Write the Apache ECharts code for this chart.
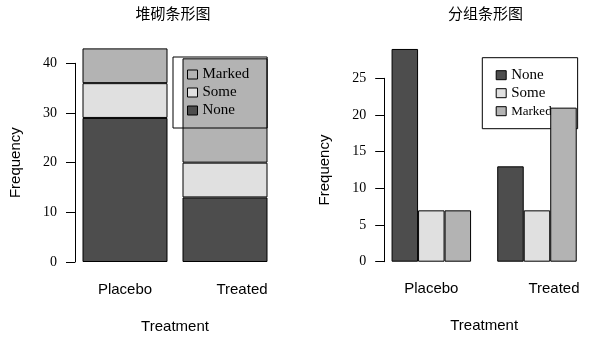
<!DOCTYPE html>
<html>
<head>
<meta charset="utf-8">
<script src="https://cdn.jsdelivr.net/npm/echarts@6/dist/echarts.min.js"></script>
<style>html,body{margin:0;padding:0;background:#fff}#c{width:612px;height:347px}</style>
</head>
<body>
<div id="c"></div>
<script>
var categories = ['Placebo', 'Treated'];
var noneVals = [29, 13];
var someVals = [7, 7];
var markedVals = [7, 21];
var leftTicks = [0, 10, 20, 30, 40];
var rightTicks = [0, 5, 10, 15, 20, 25];
var titles = ['堆砌条形图', '分组条形图'];

var COL = {None: '#4d4d4d', Some: '#e0e0e0', Marked: '#b3b3b3'};
var serif = '"Liberation Serif", "Times New Roman", serif';
var sans = '"Liberation Sans", Arial, sans-serif';
var cjk = '"Noto Sans CJK SC", sans-serif';

var chart = echarts.init(document.getElementById('c'), null, {renderer: 'canvas'});

function xAxisFor(gi) {
  return {
    type: 'category', gridIndex: gi,
    data: categories.map(function (c, i) {
      return i === 1 ? {value: c, textStyle: {padding: [0, 0, 0, 34]}} : c;
    }),
    axisLine: {show: false}, axisTick: {show: false},
    axisLabel: {fontFamily: sans, fontSize: 15, color: '#000', margin: 20},
    name: 'Treatment', nameLocation: 'middle', nameGap: 57,
    nameTextStyle: {fontFamily: sans, fontSize: 15, color: '#000'}
  };
}
function yAxisFor(gi, ticks, offset) {
  return {
    type: 'value', gridIndex: gi, min: ticks[0], max: ticks[ticks.length - 1],
    interval: ticks[1] - ticks[0], offset: offset,
    axisLine: {show: true, lineStyle: {color: '#000', width: 1}},
    axisTick: {show: true, length: 9, lineStyle: {color: '#000'}},
    splitLine: {show: false},
    axisLabel: {fontFamily: serif, fontSize: 14, color: '#000', margin: 18},
    name: 'Frequency', nameLocation: 'middle', nameGap: 52, nameRotate: 90,
    nameTextStyle: {fontFamily: sans, fontSize: 15, color: '#000'}
  };
}
function barSeries(name, data, gi, stack, width) {
  var s = {
    type: 'bar', name: name, data: data, xAxisIndex: gi, yAxisIndex: gi,
    barWidth: width, clip: false,
    itemStyle: {color: COL[name], borderColor: '#000', borderWidth: 1},
    emphasis: {disabled: true}, animation: false
  };
  if (stack) s.stack = stack; else s.barGap = '0%';
  return s;
}

var option = {
  animation: false,
  grid: [
    {left: 75, width: 200, top: 63.3, bottom: 347 - 262},
    {left: 378.5, width: 211.3, top: 78.3, bottom: 347 - 261.7}
  ],
  xAxis: [xAxisFor(0), xAxisFor(1)],
  yAxis: [yAxisFor(0, leftTicks, 0), yAxisFor(1, rightTicks, -5.7)],
  legend: [
    {
      orient: 'vertical', left: 173, top: 57,
      data: ['Marked', 'Some', 'None'],
      icon: 'rect', itemWidth: 10, itemHeight: 9, itemGap: 3,
      padding: [10, 18, 10, 14],
      borderColor: '#000', borderWidth: 1, backgroundColor: 'transparent',
      textStyle: {fontFamily: serif, fontSize: 15, color: '#000', lineHeight: 15},
      itemStyle: {borderColor: '#000', borderWidth: 1},
      selectedMode: false, z: 5
    },
    {
      orient: 'vertical', left: 482.3, top: 57.7,
      data: ['None', 'Some', {name: 'Marked', textStyle: {fontSize: 13}}],
      icon: 'rect', itemWidth: 10, itemHeight: 9, itemGap: 3,
      padding: [10, 26, 10, 13.4],
      borderColor: '#000', borderWidth: 1, backgroundColor: '#fff',
      textStyle: {fontFamily: serif, fontSize: 15, color: '#000', lineHeight: 15},
      itemStyle: {borderColor: '#000', borderWidth: 1},
      selectedMode: false, z: 1
    }
  ],
  graphic: [
    {type: 'text', x: 173, y: 6, z: 10, style: {text: titles[0], fontFamily: cjk, fontSize: 15, fontWeight: 'normal', fill: '#000', textAlign: 'center'}},
    {type: 'text', x: 485.5, y: 6, z: 10, style: {text: titles[1], fontFamily: cjk, fontSize: 15, fontWeight: 'normal', fill: '#000', textAlign: 'center'}}
  ],
  series: [
    barSeries('None', noneVals, 0, 'total', 85),
    barSeries('Some', someVals, 0, 'total', 85),
    barSeries('Marked', markedVals, 0, 'total', 85),
    barSeries('None', noneVals, 1, null, 26.5),
    barSeries('Some', someVals, 1, null, 26.5),
    barSeries('Marked', markedVals, 1, null, 26.5)
  ]
};
chart.setOption(option);
</script>
</body>
</html>
